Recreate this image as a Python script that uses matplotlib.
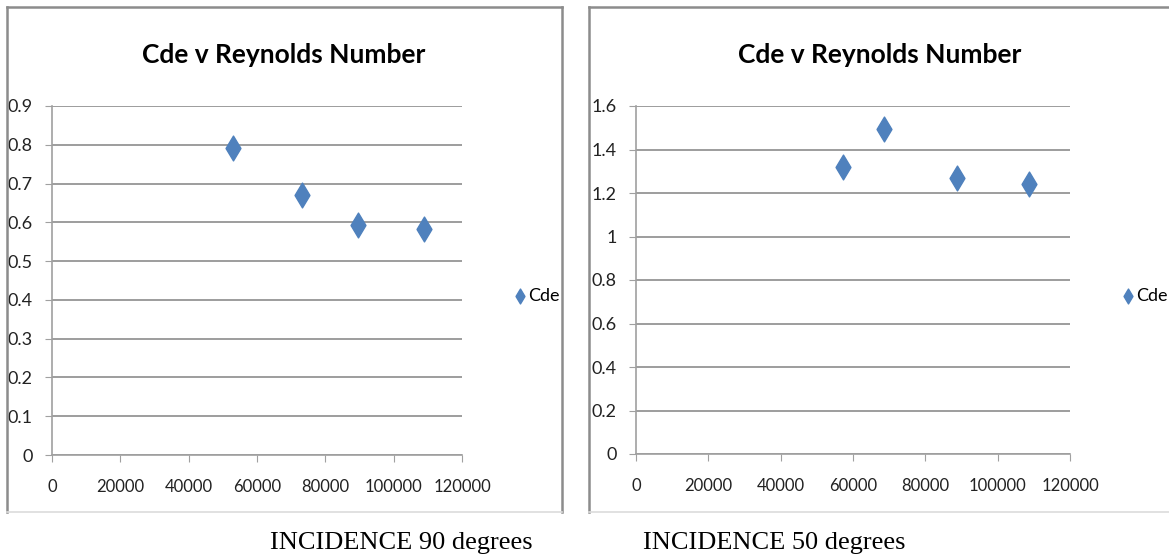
import matplotlib
matplotlib.use("Agg")
import matplotlib.pyplot as plt
from matplotlib.lines import Line2D

# Datos
re_90 = [53000, 73200, 89600, 108900]
cde_90 = [0.791, 0.670, 0.593, 0.582]

re_50 = [57200, 68600, 88800, 108700]
cde_50 = [1.320, 1.494, 1.269, 1.241]

x_ticks = [0, 20000, 40000, 60000, 80000, 100000, 120000]
y_ticks_90 = [0, 0.1, 0.2, 0.3, 0.4, 0.5, 0.6, 0.7, 0.8, 0.9]
y_labels_90 = ['0', '0.1', '0.2', '0.3', '0.4', '0.5', '0.6', '0.7', '0.8', '0.9']
y_ticks_50 = [0, 0.2, 0.4, 0.6, 0.8, 1.0, 1.2, 1.4, 1.6]
y_labels_50 = ['0', '0.2', '0.4', '0.6', '0.8', '1', '1.2', '1.4', '1.6']

titulo = 'Cde v Reynolds Number'
serie = 'Cde'
captions = ['INCIDENCE 90 degrees', 'INCIDENCE 50 degrees']

W, H = 1169, 560
azul = '#4F81BD'
gris = '#8c8c8c'
fuente = ['Lato', 'DejaVu Sans']
serif = ['Liberation Serif', 'DejaVu Serif']

fig = plt.figure(figsize=(W / 100, H / 100), dpi=100)
fig.patch.set_facecolor('white')


def px(x0, y0, x1, y1):
    # pixeles -> fraccion de figura [left, bottom, width, height]
    return [x0 / W, 1 - y1 / H, (x1 - x0) / W, (y1 - y0) / H]


def marco(x0, y0, x1, y1):
    fig.add_artist(Line2D([x0 / W, x0 / W], [1 - y0 / H, 1 - y1 / H], color=gris, lw=1.8))
    fig.add_artist(Line2D([x0 / W, x1 / W], [1 - y0 / H, 1 - y0 / H], color=gris, lw=1.8))
    fig.add_artist(Line2D([x1 / W, x1 / W], [1 - y0 / H, 1 - y1 / H], color=gris, lw=1.8))
    fig.add_artist(Line2D([x0 / W, x1 / W], [1 - y1 / H, 1 - y1 / H], color='#dcdcdc', lw=1.2))


def grafica(rect, xs, ys, yt, yl, ymax, centro_titulo, legend_xy):
    ax = fig.add_axes(rect)
    ax.scatter(xs, ys, marker='d', s=160, color=azul, zorder=3, label=serie)
    ax.set_xlim(0, 120000)
    ax.set_ylim(0, ymax)
    ax.set_xticks(x_ticks)
    ax.set_xticklabels([str(t) for t in x_ticks], family=fuente, fontsize=12, color='#222222')
    ax.set_yticks(yt)
    ax.set_yticklabels(yl, family=fuente, fontsize=13, color='#222222')
    ax.grid(axis='y', color=gris, lw=1.2)
    ax.set_axisbelow(True)
    for s in ['top', 'right']:
        ax.spines[s].set_visible(False)
    for s in ['left', 'bottom']:
        ax.spines[s].set_color('#a0a0a0')
        ax.spines[s].set_linewidth(1.2)
    ax.tick_params(axis='x', length=5, color='#a0a0a0', pad=12)
    ax.tick_params(axis='y', length=5, color='#a0a0a0', pad=9)
    fig.text(centro_titulo / W, 1 - 55 / H, titulo, family=fuente, fontsize=19,
             fontweight='bold', ha='center', va='center')
    ax.legend(loc='center left', bbox_to_anchor=(legend_xy[0] / W, 1 - legend_xy[1] / H),
              bbox_transform=fig.transFigure, frameon=False, handlelength=0.6,
              handletextpad=0.1, borderpad=0, markerscale=0.6,
              prop={'family': fuente, 'size': 13})
    return ax


marco(7, 7, 562, 512)
marco(589, 7, 1175, 512)

grafica(px(52, 106, 462, 455), re_90, cde_90, y_ticks_90, y_labels_90, 0.9, 284, (506, 296))
grafica(px(636, 106, 1070, 454), re_50, cde_50, y_ticks_50, y_labels_50, 1.6, 880, (1114, 296))

fig.text(270 / W, 1 - 543 / H, captions[0], family=serif, fontsize=19, ha='left', va='center')
fig.text(643 / W, 1 - 543 / H, captions[1], family=serif, fontsize=19, ha='left', va='center')

fig.savefig('out.png', dpi=100, facecolor='white')
